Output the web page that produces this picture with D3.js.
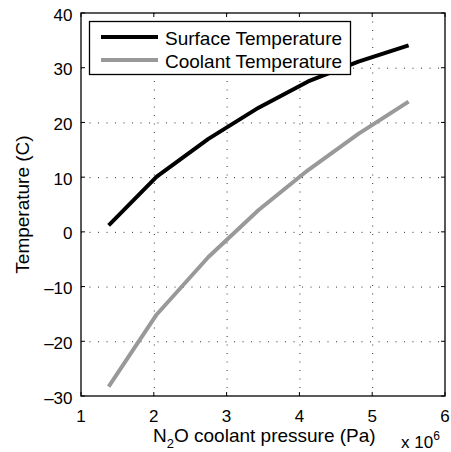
<!DOCTYPE html>
<html>
<head>
<meta charset="utf-8">
<script src="https://cdn.jsdelivr.net/npm/d3@7"></script>
<style>
  body { margin: 0; background: #fff; }
  text { font-family: "Liberation Sans", Arial, Helvetica, sans-serif; fill: #000; }
</style>
</head>
<body>
<script>
// data
let pressure = [1.38, 2.04, 2.75, 3.44, 4.12, 4.81, 5.5];   // x 10^6 Pa
let surfaceTemp = [1.2, 10.1, 17.0, 22.7, 27.5, 31.1, 34.1];
let coolantTemp = [-28.3, -15.1, -4.6, 4.0, 11.3, 17.9, 23.8];
let xTicks = [1, 2, 3, 4, 5, 6];
let yTicks = [-30, -20, -10, 0, 10, 20, 30, 40];
let seriesNames = ["Surface Temperature", "Coolant Temperature"];
let seriesColors = ["#000", "#999"];

let W = 451, H = 452;
let m = {left: 81, right: 6, top: 13, bottom: 56};

let svg = d3.select("body")
  .append("svg")
    .attr("width", W)
    .attr("height", H);

let x = d3.scaleLinear().domain([1, 6]).range([m.left, W - m.right]);
let y = d3.scaleLinear().domain([-30, 40]).range([H - m.bottom, m.top]);

// GRID (dotted)
let grid = svg.append("g")
  .attr("stroke", "#333")
  .attr("stroke-width", 1)
  .attr("stroke-dasharray", "1,7.5");

grid.selectAll(".gx")
  .data(xTicks.slice(1, -1))
  .enter().append("line")
    .attr("x1", d => x(d) + 0.5).attr("x2", d => x(d) + 0.5)
    .attr("y1", y(40)).attr("y2", y(-30));

grid.selectAll(".gy")
  .data(yTicks.slice(1, -1))
  .enter().append("line")
    .attr("x1", x(1)).attr("x2", x(6))
    .attr("y1", d => y(d) + 0.5).attr("y2", d => y(d) + 0.5);

// TICKS, inside, on all sides
let tl = 4;
let ticks = svg.append("g").attr("stroke", "#000").attr("stroke-width", 1);
xTicks.forEach(t => {
  ticks.append("line").attr("x1", x(t)).attr("x2", x(t)).attr("y1", y(-30)).attr("y2", y(-30) - tl);
  ticks.append("line").attr("x1", x(t)).attr("x2", x(t)).attr("y1", y(40)).attr("y2", y(40) + tl);
});
yTicks.forEach(t => {
  ticks.append("line").attr("y1", y(t)).attr("y2", y(t)).attr("x1", x(1)).attr("x2", x(1) + tl);
  ticks.append("line").attr("y1", y(t)).attr("y2", y(t)).attr("x1", x(6)).attr("x2", x(6) - tl);
});

// TICK LABELS
svg.selectAll(".xl")
  .data(xTicks)
  .enter().append("text")
    .attr("x", d => x(d))
    .attr("y", 422)
    .attr("text-anchor", "middle")
    .attr("font-size", 17)
    .text(d => d);

svg.selectAll(".yl")
  .data(yTicks)
  .enter().append("text")
    .attr("x", 72.5)
    .attr("y", d => y(d) + 7.5)
    .attr("text-anchor", "end")
    .attr("font-size", 17)
    .text(d => d < 0 ? "\u2013" + (-d) : d);

// LINES
let line = d3.line()
  .x((d, i) => x(pressure[i]))
  .y(d => y(d));

[surfaceTemp, coolantTemp].forEach((s, k) => {
  svg.append("path")
    .attr("d", line(s))
    .attr("fill", "none")
    .attr("stroke", seriesColors[k])
    .attr("stroke-width", 4)
    .attr("stroke-linejoin", "round");
});

// AXES BOX
svg.append("rect")
  .attr("x", x(1)).attr("y", y(40))
  .attr("width", x(6) - x(1)).attr("height", y(-30) - y(40))
  .attr("fill", "none")
  .attr("stroke", "#000")
  .attr("stroke-width", 1.3);

// LEGEND
let leg = svg.append("g");
leg.append("rect")
  .attr("x", 89.5).attr("y", 21.5)
  .attr("width", 261).attr("height", 53)
  .attr("fill", "#fff")
  .attr("stroke", "#000")
  .attr("stroke-width", 1.3);
seriesNames.forEach((n, k) => {
  let ly = 37 + k * 23;
  leg.append("line")
    .attr("x1", 101).attr("x2", 158)
    .attr("y1", ly).attr("y2", ly)
    .attr("stroke", seriesColors[k])
    .attr("stroke-width", 4);
  leg.append("text")
    .attr("x", 165).attr("y", ly + 7.5)
    .attr("font-size", 19)
    .text(n);
});

// AXIS LABELS
let xl = svg.append("text")
  .attr("x", 153)
  .attr("y", 442)
  .attr("font-size", 19);
xl.append("tspan").text("N");
xl.append("tspan").attr("font-size", 13).attr("dy", 6).text("2");
xl.append("tspan").attr("dy", -6).text("O coolant pressure (Pa)");

let ex = svg.append("text")
  .attr("x", 401)
  .attr("y", 447.5)
  .attr("font-size", 17);
ex.append("tspan").text("x 10");
ex.append("tspan").attr("font-size", 12).attr("dy", -8).text("6");

svg.append("text")
  .attr("transform", "translate(29," + ((y(40) + y(-30)) / 2) + ") rotate(-90)")
  .attr("text-anchor", "middle")
  .attr("font-size", 19)
  .text("Temperature (C)");
</script>
</body>
</html>
